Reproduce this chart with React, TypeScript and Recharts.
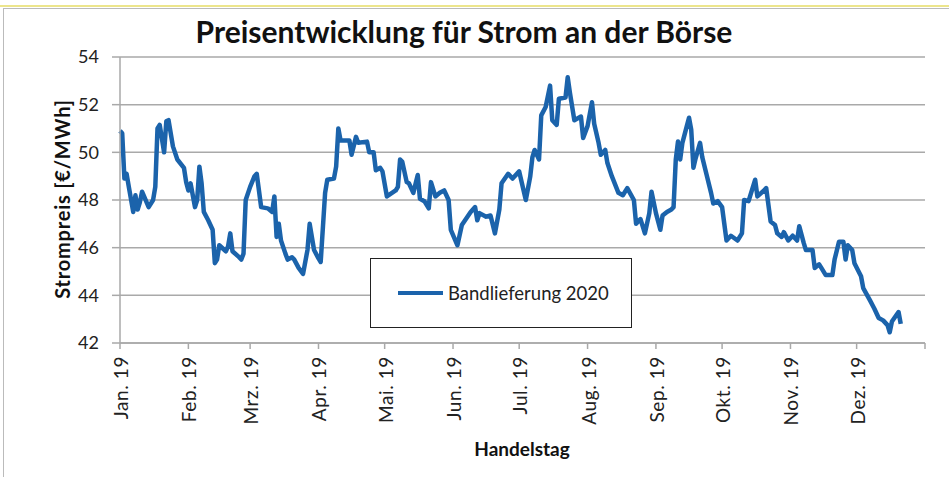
import { Legend, Line, LineChart, CartesianGrid, XAxis, YAxis } from "recharts";

// day of year (0 = 1 Jan 2019) of each sampled trading day
const tradingDay = [
  0, 1, 2, 3, 4, 6, 7, 8, 9, 10, 13, 15, 16, 17, 18, 20, 21, 22, 24, 26, 29, 30,
  31, 32, 34, 35, 36, 37, 38, 40, 42, 43, 44, 45, 48, 49, 50, 51, 54, 55, 56, 57,
  59, 61, 62, 64, 67, 69, 70, 71, 72, 73, 75, 76, 78, 79, 81, 83, 85, 86, 88, 90,
  91, 93, 94, 97, 98, 99, 100, 104, 105, 107, 108, 112, 113, 115, 116, 118, 119,
  121, 125, 126, 127, 128, 130, 131, 133, 135, 136, 138, 140, 141, 143, 145, 147,
  149, 150, 153, 155, 159, 161, 162, 163, 166, 168, 170, 172, 173, 176, 178, 181,
  184, 186, 187, 188, 190, 191, 193, 195, 196, 198, 199, 202, 203, 204, 206, 209,
  210, 212, 214, 215, 217, 218, 220, 221, 223, 226, 228, 230, 233, 234, 236, 238,
  240, 241, 243, 245, 246, 248, 250, 251, 252, 253, 254, 255, 257, 258, 259, 260,
  261, 263, 264, 266, 268, 269, 271, 273, 274, 275, 277, 280, 282, 283, 285, 288,
  289, 292, 293, 295, 297, 298, 300, 301, 303, 305, 307, 308, 310, 311, 314, 315,
  317, 318, 320, 323, 324, 326, 328, 329, 330, 332, 333, 336, 337, 340, 342, 344,
  346, 348, 349, 350, 353, 354,
];

// Bandlieferung 2020, €/MWh
const bandPrice = [
  50.9, 50.8, 48.9, 49.1, 48.55, 47.5, 48.2, 47.6, 47.9, 48.35, 47.7, 48.0, 48.55,
  51.0, 51.15, 50.0, 51.3, 51.35, 50.25, 49.7, 49.35, 48.75, 48.4, 48.7, 47.7,
  48.0, 49.4, 48.7, 47.5, 47.15, 46.75, 45.35, 45.5, 46.1, 45.85, 46.05, 46.6,
  45.85, 45.6, 45.5, 45.75, 48.0, 48.55, 49.0, 49.1, 47.7, 47.65, 47.5, 48.15,
  46.45, 47.0, 46.3, 45.75, 45.5, 45.6, 45.5, 45.15, 44.9, 45.9, 47.0, 45.9,
  45.55, 45.4, 48.3, 48.85, 48.9, 49.4, 51.0, 50.5, 50.5, 49.9, 50.65, 50.4,
  50.45, 50.0, 50.0, 49.25, 49.35, 49.2, 48.15, 48.4, 48.55, 49.7, 49.6, 48.75,
  48.7, 48.3, 49.05, 48.05, 47.95, 47.65, 48.75, 48.15, 48.3, 48.4, 48.0, 46.75,
  46.1, 46.95, 47.5, 47.7, 47.15, 47.45, 47.3, 47.35, 46.6, 47.6, 48.7, 49.1,
  48.9, 49.2, 48.0, 48.98, 49.8, 50.1, 49.7, 51.55, 51.9, 52.8, 51.35, 51.15,
  52.25, 52.3, 53.15, 52.5, 51.35, 51.5, 50.6, 51.1, 52.1, 51.2, 50.4, 49.9,
  50.1, 49.55, 49.0, 48.3, 48.2, 48.5, 48.0, 47.0, 47.2, 46.6, 47.45, 48.35,
  47.45, 46.75, 47.35, 47.5, 47.6, 47.7, 49.7, 50.45, 49.7, 50.4, 51.1, 51.45,
  50.95, 49.35, 49.75, 50.4, 49.8, 49.05, 48.3, 47.85, 47.95, 47.7, 47.0, 46.3,
  46.5, 46.3, 46.6, 48.0, 47.95, 48.85, 48.15, 48.4, 48.5, 47.1, 46.95, 46.6,
  46.45, 46.65, 46.3, 46.5, 46.3, 46.9, 46.2, 45.9, 45.9, 45.15, 45.3, 45.15,
  44.85, 44.85, 45.5, 46.25, 46.25, 45.5, 46.1, 45.9, 45.35, 44.8, 44.3, 43.8,
  43.45, 43.05, 42.95, 42.75, 42.45, 42.9, 43.3, 42.8,
];

const monthStarts = [0, 31, 59, 90, 120, 151, 181, 212, 243, 273, 304, 334, 365];
const monthLabels = [
  "Jan. 19", "Feb. 19", "Mrz. 19", "Apr. 19", "Mai. 19", "Jun. 19",
  "Jul. 19", "Aug. 19", "Sep. 19", "Okt. 19", "Nov. 19", "Dez. 19", "",
];
const priceTicks = [42, 44, 46, 48, 50, 52, 54];

const rows = tradingDay.map((day, i) => ({ day, price: bandPrice[i] }));

const FONT = "Lato, 'Open Sans', sans-serif";
const BLUE = "#1b63ab";
const AXIS = "#a9a9a9";

const MonthTick = (props: any) => {
  const { x, y, payload } = props;
  const idx = monthStarts.indexOf(payload.value);
  const label = idx >= 0 ? monthLabels[idx] : "";
  if (!label) return null;
  return (
    <text
      transform={`translate(${x + 8},${y + 5}) rotate(-90)`}
      textAnchor="end"
      fontSize={19}
      letterSpacing={0.6}
      fontFamily={FONT}
      fill="#222"
    >
      {label}
    </text>
  );
};

const LegendBox = () => (
  <div
    style={{
      width: 262,
      height: 70,
      boxSizing: "border-box",
      border: "1px solid #222",
      background: "#fff",
      display: "flex",
      alignItems: "center",
      fontFamily: FONT,
      fontSize: 18.5,
      color: "#222",
    }}
  >
    <span
      style={{
        display: "inline-block",
        width: 45,
        height: 4,
        background: BLUE,
        marginLeft: 27,
        marginRight: 5,
      }}
    />
    Bandlieferung 2020
  </div>
);

export default function App() {
  return (
    <div
      style={{
        position: "absolute",
        left: 0,
        top: 0,
        width: 949,
        height: 477,
        background: "#fff",
        overflow: "hidden",
      }}
    >
      <div style={{ position: "absolute", left: 0, top: 5, width: 949, height: 2, background: "#ece58c" }} />
      <div
        style={{
          position: "absolute",
          left: 3,
          top: 8,
          width: 960,
          height: 480,
          borderLeft: "1px solid #bbb",
          borderTop: "1px solid #bbb",
        }}
      />
      <LineChart
        width={949}
        height={477}
        data={rows}
        margin={{ top: 57, right: 24, left: 0, bottom: 0 }}
      >
        <CartesianGrid vertical={false} stroke={AXIS} strokeWidth={1.5} />
        <XAxis
          dataKey="day"
          type="number"
          domain={[0, 365]}
          ticks={monthStarts}
          interval={0}
          height={134}
          tickSize={6}
          tickMargin={2}
          axisLine={{ stroke: AXIS, strokeWidth: 1.5 }}
          tickLine={{ stroke: AXIS, strokeWidth: 1.5 }}
          tick={<MonthTick />}
        />
        <YAxis
          type="number"
          domain={[42, 54]}
          ticks={priceTicks}
          interval={0}
          width={120}
          tickSize={8}
          tickMargin={13}
          axisLine={{ stroke: AXIS, strokeWidth: 1.5 }}
          tickLine={{ stroke: AXIS, strokeWidth: 1.5 }}
          tick={{ fontSize: 18, fill: "#222", fontFamily: FONT }}
        />
        <Legend
          layout="vertical"
          align="center"
          verticalAlign="middle"
          content={<LegendBox />}
          wrapperStyle={{ left: 370, top: 258, width: 262, height: 70 }}
        />
        <Line
          dataKey="price"
          name="Bandlieferung 2020"
          type="linear"
          stroke={BLUE}
          strokeWidth={4.5}
          strokeLinejoin="round"
          dot={false}
          isAnimationActive={false}
        />
      </LineChart>
      <div
        style={{
          position: "absolute",
          left: 464,
          top: 31,
          transform: "translate(-50%, -50%)",
          fontFamily: FONT,
          fontWeight: 700,
          fontSize: 30,
          color: "#111",
          whiteSpace: "nowrap",
        }}
      >
        Preisentwicklung für Strom an der Börse
      </div>
      <div
        style={{
          position: "absolute",
          left: 62,
          top: 199,
          transform: "translate(-50%, -50%) rotate(-90deg)",
          fontFamily: FONT,
          fontWeight: 700,
          fontSize: 20,
          letterSpacing: 0.8,
          color: "#111",
          whiteSpace: "nowrap",
        }}
      >
        Strompreis [€/MWh]
      </div>
      <div
        style={{
          position: "absolute",
          left: 522,
          top: 448,
          transform: "translate(-50%, -50%)",
          fontFamily: FONT,
          fontWeight: 700,
          fontSize: 19,
          color: "#111",
          whiteSpace: "nowrap",
        }}
      >
        Handelstag
      </div>
    </div>
  );
}
